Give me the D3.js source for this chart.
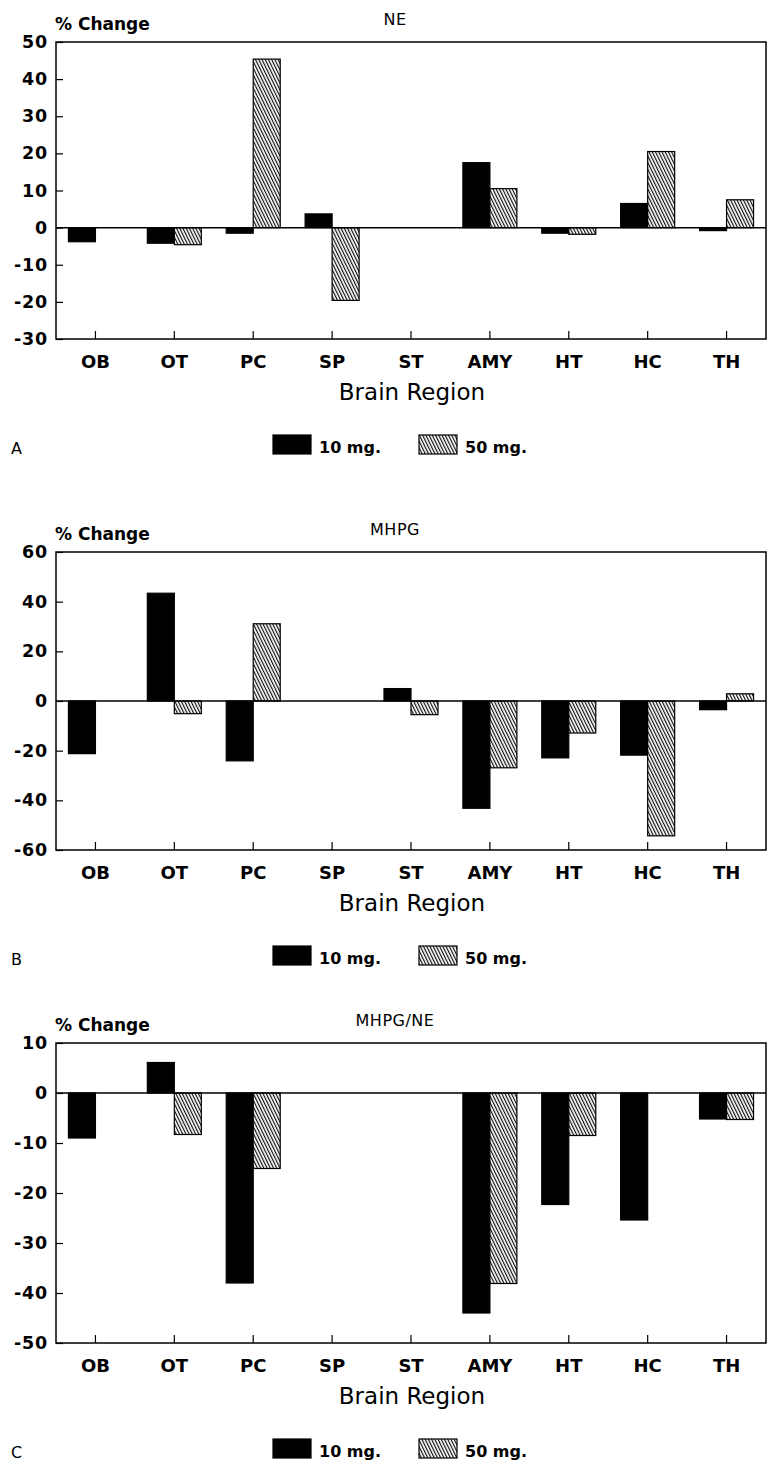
<!DOCTYPE html>
<html>
<head>
<meta charset="utf-8">
<script src="https://cdn.jsdelivr.net/npm/d3@7"></script>
<style>
  body { margin: 0; background: #fff; }
  svg { display: block; font-family: "DejaVu Sans", sans-serif; }
</style>
</head>
<body>
<div class="chart"></div>
<script>
// data
const regions = ["OB", "OT", "PC", "SP", "ST", "AMY", "HT", "HC", "TH"];
const doses = ["10 mg.", "50 mg."];

const neLow   = [-3.8, -4.2, -1.5, 3.7, null, 17.5, -1.5, 6.5, -0.8];
const neHigh  = [null, -4.6, 45.4, -19.6, null, 10.5, -1.8, 20.5, 7.5];
const mhpgLow  = [-21.2, 43.4, -24.1, null, 5.0, -43.2, -22.9, -21.8, -3.5];
const mhpgHigh = [null, -5.1, 31.1, null, -5.5, -26.9, -12.9, -54.3, 2.9];
const ratioLow  = [-9.0, 6.1, -38.0, null, null, -44.0, -22.3, -25.4, -5.2];
const ratioHigh = [null, -8.3, -15.1, null, null, -38.1, -8.5, null, -5.3];

const neTicks = [-30, -20, -10, 0, 10, 20, 30, 40, 50];
const mhpgTicks = [-60, -40, -20, 0, 20, 40, 60];
const ratioTicks = [-50, -40, -30, -20, -10, 0, 10];

// layout
let outWidth = 769, outHeight = 1465;
let left = 56, right = 766;
let barW = 27;

const panels = [
  {title: "NE", letter: "A", low: neLow, high: neHigh, ticks: neTicks, top: 42, bottom: 339},
  {title: "MHPG", letter: "B", low: mhpgLow, high: mhpgHigh, ticks: mhpgTicks, top: 552, bottom: 850},
  {title: "MHPG/NE", letter: "C", low: ratioLow, high: ratioHigh, ticks: ratioTicks, top: 1043, bottom: 1343}
];

const svg = d3.select(".chart").append("svg")
    .attr("width", outWidth)
    .attr("height", outHeight);

// hatch pattern for the 50 mg bars
const pat = svg.append("defs").append("pattern")
    .attr("id", "hatch")
    .attr("patternUnits", "userSpaceOnUse")
    .attr("width", 2.9)
    .attr("height", 10)
    .attr("patternTransform", "rotate(-26)");
pat.append("rect").attr("width", 2.9).attr("height", 10).attr("fill", "#fff");
pat.append("line")
    .attr("x1", 0.6).attr("x2", 0.6)
    .attr("y1", 0).attr("y2", 10)
    .attr("stroke", "#000")
    .attr("stroke-width", 1.1);

const x = d3.scaleBand()
    .domain(regions)
    .range([left, right]);

panels.forEach(p => {
  const g = svg.append("g");
  const y = d3.scaleLinear()
      .domain(d3.extent(p.ticks))
      .range([p.bottom, p.top]);

  // y axis, ticks pointing inward
  g.append("g")
      .attr("transform", `translate(${left},0)`)
      .call(d3.axisLeft(y).tickValues(p.ticks).tickSize(-7).tickPadding(8).tickFormat(d => String(d)))
      .call(a => a.select(".domain").remove())
      .call(a => a.selectAll("line").attr("stroke", "#000").attr("stroke-width", 1.2))
      .call(a => a.selectAll("text")
          .attr("fill", "#000")
          .attr("font-family", "DejaVu Sans")
          .attr("font-weight", "bold")
          .attr("font-size", 17.5)
          .attr("letter-spacing", 0.8));

  // x axis
  g.append("g")
      .attr("transform", `translate(0,${p.bottom})`)
      .call(d3.axisBottom(x).tickSize(-8).tickSizeOuter(0))
      .call(a => a.select(".domain").remove())
      .call(a => a.selectAll("line").attr("stroke", "#000").attr("stroke-width", 1.2))
      .call(a => a.selectAll("text")
          .attr("fill", "#000")
          .attr("dy", null)
          .attr("y", 29)
          .attr("font-family", "DejaVu Sans")
          .attr("font-weight", "bold")
          .attr("font-size", 18));

  // bars
  const rows = regions.map((r, i) => ({region: r, low: p.low[i], high: p.high[i]}));
  const barData = [];
  rows.forEach(d => {
    if (d.low !== null) barData.push({region: d.region, v: d.low, dose: 0});
    if (d.high !== null) barData.push({region: d.region, v: d.high, dose: 1});
  });

  g.selectAll("rect.bar")
      .data(barData)
      .join("rect")
      .attr("class", "bar")
      .attr("x", d => x(d.region) + x.bandwidth() / 2 - (d.dose === 0 ? barW : 0))
      .attr("y", d => y(Math.max(0, d.v)))
      .attr("width", barW)
      .attr("height", d => Math.abs(y(d.v) - y(0)))
      .attr("fill", d => d.dose === 0 ? "#000" : "url(#hatch)")
      .attr("stroke", "#000")
      .attr("stroke-width", 1.2);

  // zero line
  g.append("line")
      .attr("x1", left).attr("x2", right)
      .attr("y1", y(0)).attr("y2", y(0))
      .attr("stroke", "#000")
      .attr("stroke-width", 1.5);

  // frame
  g.append("rect")
      .attr("x", left).attr("y", p.top)
      .attr("width", right - left).attr("height", p.bottom - p.top)
      .attr("fill", "none")
      .attr("stroke", "#000")
      .attr("stroke-width", 1.5);

  // texts
  g.append("text")
      .attr("x", 55).attr("y", p.top - 12)
      .attr("font-weight", "bold")
      .attr("font-size", 17)
      .text("% Change");

  g.append("text")
      .attr("x", 395).attr("y", p.top - 17)
      .attr("text-anchor", "middle")
      .attr("font-size", 16)
      .attr("letter-spacing", 0.5)
      .text(p.title);

  g.append("text")
      .attr("x", 412).attr("y", p.bottom + 61)
      .attr("text-anchor", "middle")
      .attr("font-size", 23)
      .text("Brain Region");

  g.append("text")
      .attr("x", 11).attr("y", p.bottom + 115)
      .attr("font-size", 16)
      .text(p.letter);

  // legend
  const lx = [273, 419];
  doses.forEach((name, k) => {
    g.append("rect")
        .attr("x", lx[k]).attr("y", p.bottom + 96)
        .attr("width", 38).attr("height", 19)
        .attr("fill", k === 0 ? "#000" : "url(#hatch)")
        .attr("stroke", "#000")
        .attr("stroke-width", 1.2);
    g.append("text")
        .attr("x", lx[k] + 46).attr("y", p.bottom + 114)
        .attr("font-weight", "bold")
        .attr("font-size", 16)
        .text(name);
  });
});
</script>
</body>
</html>
